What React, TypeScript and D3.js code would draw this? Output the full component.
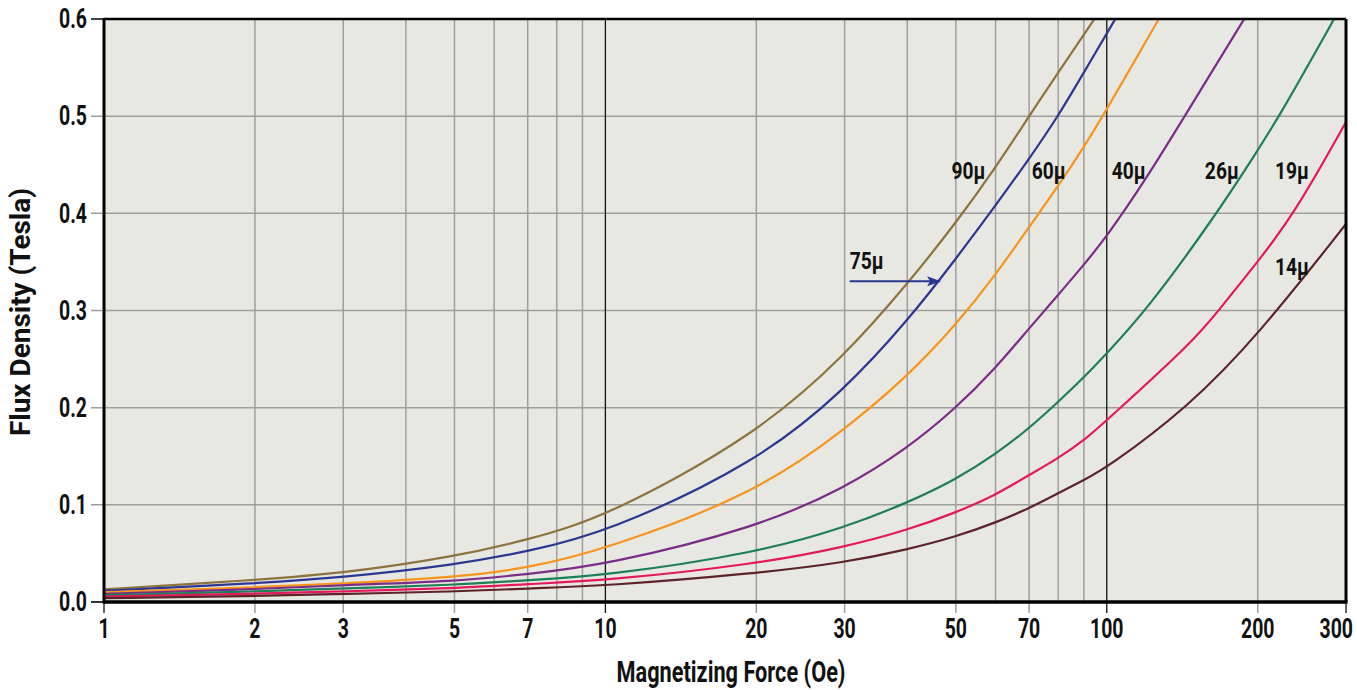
import React from "react";
import * as d3 from "d3";

// ---- data ----
const xTickLabels = [1, 2, 3, 5, 7, 10, 20, 30, 50, 70, 100, 200, 300];
const xGridValues = [2, 3, 4, 5, 6, 7, 8, 9, 20, 30, 40, 50, 60, 70, 80, 90, 200];
const xDecadeLines = [10, 100];
const yTickValues = [0, 0.1, 0.2, 0.3, 0.4, 0.5, 0.6];

const h90 = [1, 2, 3, 5, 7, 10, 20, 30, 40, 50, 60, 70, 80, 94.5];
const b90 = [0.013, 0.0226, 0.0295, 0.0466, 0.064, 0.087, 0.172, 0.253, 0.327, 0.39, 0.447, 0.5, 0.545, 0.6];

const h75 = [1, 2, 3, 5, 7, 10, 20, 30, 40, 50, 60, 70, 80, 90, 104];
const b75 = [0.0116, 0.019, 0.0254, 0.038, 0.052, 0.071, 0.143, 0.218, 0.289, 0.353, 0.408, 0.456, 0.5, 0.545, 0.6];

const h60 = [1, 2, 3, 5, 7, 10, 20, 30, 40, 50, 60, 70, 80, 90, 100, 127];
const b60 = [0.01, 0.015, 0.019, 0.0254, 0.0347, 0.054, 0.112, 0.177, 0.232, 0.285, 0.3365, 0.386, 0.428, 0.468, 0.507, 0.6];

const h40 = [1, 2, 3, 5, 7, 10, 20, 30, 40, 50, 60, 70, 80, 90, 100, 120, 143, 188];
const b40 = [0.0085, 0.013, 0.0175, 0.021, 0.0288, 0.038, 0.0765, 0.117, 0.158, 0.1994, 0.2405, 0.2817, 0.316, 0.347, 0.376, 0.436, 0.5, 0.6];

const h26 = [1, 2, 3, 5, 7, 10, 20, 30, 40, 50, 60, 70, 80, 90, 100, 120, 166, 200, 221, 284];
const b26 = [0.007, 0.0108, 0.014, 0.0175, 0.0226, 0.027, 0.0505, 0.0765, 0.102, 0.126, 0.152, 0.1787, 0.206, 0.231, 0.256, 0.3, 0.4, 0.465, 0.5, 0.6];

const h19 = [1, 2, 3, 5, 7, 10, 20, 30, 40, 50, 60, 70, 80, 90, 100, 150, 167, 200, 237, 300];
const b19 = [0.0055, 0.0085, 0.011, 0.014, 0.0185, 0.022, 0.039, 0.0565, 0.074, 0.092, 0.11, 0.1307, 0.148, 0.166, 0.187, 0.27, 0.3, 0.35, 0.4, 0.494];

const h14 = [1, 2, 3, 5, 7, 10, 20, 30, 40, 50, 60, 70, 80, 90, 100, 145, 200, 300];
const b14 = [0.004, 0.006, 0.0085, 0.0106, 0.014, 0.0165, 0.0295, 0.0405, 0.054, 0.0672, 0.0816, 0.0964, 0.112, 0.1256, 0.138, 0.2, 0.274, 0.389];

const seriesNames = ["90μ", "75μ", "60μ", "40μ", "26μ", "19μ", "14μ"];
const seriesColors = ["#8D743F", "#2C3791", "#F7941E", "#7B2C87", "#1F7F58", "#E4195D", "#5C2428"];
const seriesH = [h90, h75, h60, h40, h26, h19, h14];
const seriesB = [b90, b75, b60, b40, b26, b19, b14];

// label anchors (data coords)
const labelH = [53, 33.2, 76.6, 110.6, 169.6, 234, 234];
const labelB = [0.444, 0.351, 0.444, 0.444, 0.444, 0.444, 0.345];
const arrowFromH = 30.7;
const arrowToH = 46.5;
const arrowB = 0.33;

const W = 1357;
const H = 690;
const left = 104;
const right = 1346;
const top = 19;
const bottom = 602;
const FONT = "Roboto, 'DejaVu Sans', sans-serif";

type TProps = {
  x: number;
  y: number;
  size: number;
  anchor?: "start" | "middle" | "end";
  rotate?: number;
  sx?: number;
  len?: number;
  children: React.ReactNode;
};

function T({ x, y, size, anchor = "middle", rotate = 0, sx = 0.74, len, children }: TProps) {
  if (len) {
    return (
      <text
        transform={`translate(${x},${y}) rotate(${rotate})`}
        textAnchor={anchor}
        dominantBaseline="central"
        fontSize={size}
        fontWeight="bold"
        fill="#111"
        textLength={len}
        lengthAdjust="spacingAndGlyphs"
      >
        {children}
      </text>
    );
  }
  return (
    <text
      transform={`translate(${x},${y}) rotate(${rotate}) scale(${sx},1)`}
      textAnchor={anchor}
      dominantBaseline="central"
      fontSize={size}
      fontWeight="bold"
      fill="#111"
    >
      {children}
    </text>
  );
}

export default function App() {
  const x = d3.scaleLog().domain([1, 300]).range([left, right]);
  const y = d3.scaleLinear().domain([0, 0.6]).range([bottom, top]);

  const line = d3
    .line<[number, number]>()
    .x((d) => x(d[0]))
    .y((d) => y(d[1]))
    .curve(d3.curveBasis);

  const series = seriesNames.map((name, i) => ({
    name,
    color: seriesColors[i],
    pts: seriesH[i].map((h, j) => [h, seriesB[i][j]] as [number, number]),
  }));

  const lastTick = xTickLabels[xTickLabels.length - 1];

  return (
    <svg
      width={W}
      height={H}
      style={{ position: "absolute", left: 0, top: 0, background: "#fff" }}
      fontFamily={FONT}
    >
      <defs>
        <clipPath id="plot">
          <rect x={left} y={top} width={right - left} height={bottom - top} />
        </clipPath>
        <marker
          id="arrow"
          viewBox="0 0 14 10"
          refX="13"
          refY="5"
          markerWidth="14"
          markerHeight="10"
          orient="auto"
          markerUnits="userSpaceOnUse"
        >
          <path d="M0,0 L14,5 L0,10 L3,5 Z" fill="#2C3791" />
        </marker>
      </defs>

      <rect x={left} y={top} width={right - left} height={bottom - top} fill="#E8E8E3" />

      {/* horizontal grid + y ticks */}
      {yTickValues.map((v) => (
        <line key={"hy" + v} x1={91} x2={right} y1={y(v)} y2={y(v)} stroke="#9E9E9E" strokeWidth={1.5} />
      ))}
      {/* vertical grid */}
      {xGridValues.map((v) => (
        <line
          key={"gx" + v}
          x1={x(v)}
          x2={x(v)}
          y1={top}
          y2={xTickLabels.includes(v) ? bottom + 11 : bottom}
          stroke="#9E9E9E"
          strokeWidth={1.5}
        />
      ))}
      {xDecadeLines.map((v) => (
        <line key={"dx" + v} x1={x(v)} x2={x(v)} y1={top} y2={bottom + 11} stroke="#111" strokeWidth={1.3} />
      ))}
      <line x1={x(1)} x2={x(1)} y1={bottom} y2={bottom + 11} stroke="#333" strokeWidth={1.5} />
      <line x1={x(300)} x2={x(300)} y1={bottom} y2={bottom + 11} stroke="#333" strokeWidth={1.5} />
      <line x1={91} x2={left} y1={y(0)} y2={y(0)} stroke="#333" strokeWidth={2} />
      <line x1={91} x2={left} y1={y(0.6)} y2={y(0.6)} stroke="#444" strokeWidth={2} />

      {/* curves */}
      <g clipPath="url(#plot)">
        {series.map((s) => (
          <path key={s.name} d={line(s.pts) || ""} fill="none" stroke={s.color} strokeWidth={2.2} />
        ))}
      </g>

      {/* frame */}
      <line x1={left} x2={right} y1={top} y2={top} stroke="#000" strokeWidth={2.5} />
      <line x1={right} x2={right} y1={top} y2={bottom} stroke="#000" strokeWidth={3} />
      <line x1={left} x2={left} y1={top - 1} y2={bottom + 1.5} stroke="#000" strokeWidth={3} />
      <line x1={left - 1} x2={right + 1.5} y1={bottom} y2={bottom} stroke="#000" strokeWidth={3.5} />

      {/* series labels */}
      {series.map((s, i) => (
        <T key={"lbl" + s.name} x={x(labelH[i])} y={y(labelB[i])} size={24} sx={0.8}>
          {s.name}
        </T>
      ))}
      <line
        x1={x(arrowFromH)}
        x2={x(arrowToH)}
        y1={y(arrowB)}
        y2={y(arrowB)}
        stroke="#2C3791"
        strokeWidth={2}
        markerEnd="url(#arrow)"
      />

      {/* y tick labels */}
      {yTickValues.map((v) => (
        <T key={"yl" + v} x={87} y={y(v)} size={27} sx={0.72} anchor="end">
          {v.toFixed(1)}
        </T>
      ))}
      {/* x tick labels */}
      {xTickLabels.map((v) =>
        v === lastTick ? (
          <T key={"xl" + v} x={W - 4} y={629} size={27} sx={0.72} anchor="end">
            {v}
          </T>
        ) : (
          <T key={"xl" + v} x={x(v)} y={629} size={27} sx={0.72}>
            {v}
          </T>
        )
      )}

      {/* axis titles */}
      <T x={731} y={672} size={29} len={229}>
        Magnetizing Force (Oe)
      </T>
      <T x={21} y={312} size={27} rotate={-90} len={248}>
        Flux Density (Tesla)
      </T>
    </svg>
  );
}
